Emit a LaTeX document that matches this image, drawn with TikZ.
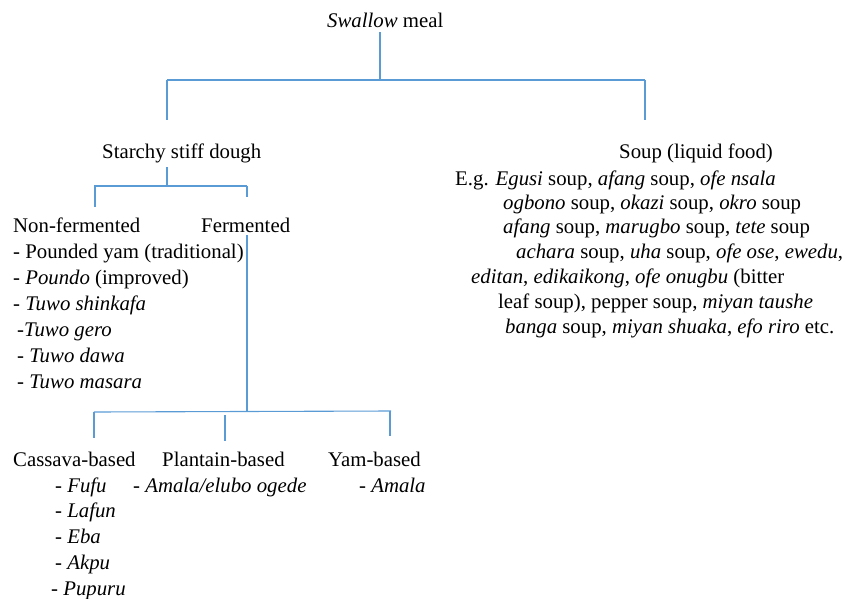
\documentclass[tikz,border=0pt]{standalone}
\usepackage{fontspec}
\setmainfont{Liberation Serif}
\definecolor{lineblue}{HTML}{5B9BD5}
\begin{document}
\begin{tikzpicture}[x=1pt,y=-1pt,
  txt/.style={anchor=base west, inner sep=0pt, font=\fontsize{20.8}{25}\selectfont},
  conn/.style={draw=lineblue, line width=1.1pt}]
\useasboundingbox (0,0) rectangle (847,598);
% top level
\node[txt] (swallow) at (327,27) {\textit{Swallow} meal};
\node[txt] (starchy) at (102,158) {Starchy stiff dough};
\node[txt] (soup) at (619,158) {Soup (liquid food)};
% soup examples
\node[txt] (s1) at (455,185) {E.g. \textit{Egusi} soup, \textit{afang} soup, \textit{ofe nsala}};
\node[txt] (s2) at (503,209) {\textit{ogbono} soup, \textit{okazi} soup, \textit{okro} soup};
\node[txt] (s3) at (503,233) {\textit{afang} soup, \textit{marugbo} soup, \textit{tete} soup};
\node[txt] (s4) at (516,258) {\textit{achara} soup, \textit{uha} soup, \textit{ofe ose}, \textit{ewedu},};
\node[txt] (s5) at (471,283) {\textit{editan}, \textit{edikaikong}, \textit{ofe onugbu} (bitter};
\node[txt] (s6) at (498,308) {leaf soup), pepper soup, \textit{miyan taushe}};
\node[txt] (s7) at (505,333) {\textit{banga} soup, \textit{miyan shuaka}, \textit{efo riro} etc.};
% starchy branches
\node[txt] (nonferm) at (13,232) {Non-fermented};
\node[txt] (ferm) at (201,232) {Fermented};
\node[txt] (n1) at (13,258) {- Pounded yam (traditional)};
\node[txt] (n2) at (13,284) {- \textit{Poundo} (improved)};
\node[txt] (n3) at (13,310) {- \textit{Tuwo shinkafa}};
\node[txt] (n4) at (17,336) {-\textit{Tuwo gero}};
\node[txt] (n5) at (17,362) {- \textit{Tuwo dawa}};
\node[txt] (n6) at (17,388) {- \textit{Tuwo masara}};
% fermented branches
\node[txt] (cassava) at (13,466) {Cassava-based};
\node[txt] (plantain) at (162,466) {Plantain-based};
\node[txt] (yam) at (328,466) {Yam-based};
\node[txt] (c1) at (55,492) {- \textit{Fufu}};
\node[txt] (c2) at (55,517) {- \textit{Lafun}};
\node[txt] (c3) at (55,543) {- \textit{Eba}};
\node[txt] (c4) at (55,569) {- \textit{Akpu}};
\node[txt] (c5) at (51,595) {- \textit{Pupuru}};
\node[txt] (p1) at (133,492) {- \textit{Amala/elubo ogede}};
\node[txt] (y1) at (359,492) {- \textit{Amala}};
% connector coordinates
\coordinate (t0) at (380,32);
\coordinate (t1) at (380,80);
\coordinate (tl) at (167,80);
\coordinate (tr) at (645,80);
\coordinate (tle) at (167,120);
\coordinate (tre) at (645,120);
\coordinate (m0) at (167,167);
\coordinate (m1) at (167,186);
\coordinate (ml) at (94,186);
\coordinate (mr) at (247,186);
\coordinate (mle) at (95,207);
\coordinate (mre) at (247,197);
\coordinate (f0) at (247,235);
\coordinate (f1) at (247,411.5);
\coordinate (fl) at (94,412);
\coordinate (fr) at (391,411);
\coordinate (fle) at (94,438);
\coordinate (fm0) at (225,415);
\coordinate (fme) at (225,441);
\coordinate (fr0) at (390,411);
\coordinate (fre) at (390,436);
% connectors
\draw[conn] (t0) -- (t1);
\draw[conn] (tl) -- (tr);
\draw[conn] (tl) -- (tle);
\draw[conn] (tr) -- (tre);
\draw[conn] (m0) -- (m1);
\draw[conn] (ml) -- (mr);
\draw[conn] (95,186) -- (mle);
\draw[conn] (mr) -- (mre);
\draw[conn] (f0) -- (f1);
\draw[conn] (fl) -- (fr);
\draw[conn] (fl) -- (fle);
\draw[conn] (fm0) -- (fme);
\draw[conn] (fr0) -- (fre);
\end{tikzpicture}
\end{document}
